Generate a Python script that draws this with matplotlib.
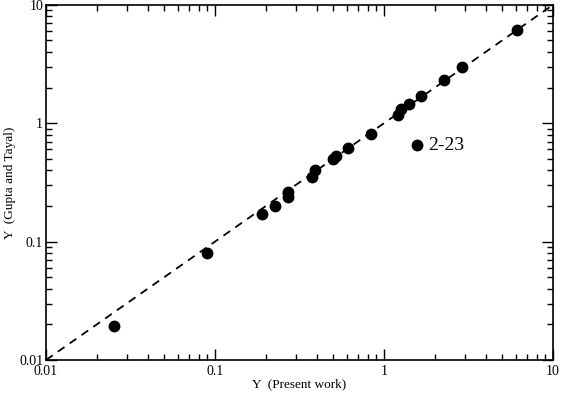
import matplotlib
matplotlib.use("Agg")
import matplotlib.pyplot as plt
from matplotlib.ticker import LogLocator, FixedFormatter, FixedLocator, NullFormatter

plt.rcParams['font.family'] = ['Liberation Serif', 'DejaVu Serif']

x_present = [0.0252, 0.0893, 0.189, 0.226, 0.272, 0.272, 0.373, 0.391, 0.501, 0.52,
             0.615, 0.838, 1.215, 1.26, 1.41, 1.655, 2.27, 2.88, 6.10]
y_gupta = [0.0195, 0.0795, 0.170, 0.200, 0.26, 0.24, 0.352, 0.40, 0.503, 0.53,
           0.621, 0.805, 1.164, 1.32, 1.46, 1.71, 2.30, 2.97, 6.18]
outlier_x = [1.56]
outlier_y = [0.65]
outlier_label = "2-23"
ref_line = [0.01, 10]
tick_vals = [0.01, 0.1, 1, 10]
tick_labels = ["0.01", "0.1", "1", "10"]

fig = plt.figure(figsize=(5.63, 3.95), dpi=100)
ax = fig.add_axes([46/563, 35/395, (553-46)/563, (360-4.8)/395])
ax.set_xscale('log')
ax.set_yscale('log')
ax.set_xlim(0.01, 10)
ax.set_ylim(0.01, 10)

ax.plot(ref_line, ref_line, linestyle=(0, (4.5, 3.5)), color='black', linewidth=1.3, zorder=1)
ax.plot(x_present, y_gupta, 'o', color='black', markersize=7.5, zorder=2)
ax.plot(outlier_x, outlier_y, 'o', color='black', markersize=7.5, zorder=2)
ax.annotate(outlier_label, (outlier_x[0], outlier_y[0]), xytext=(8, 0), textcoords='offset points',
            va='center', ha='left', fontsize=14)

for axis in (ax.xaxis, ax.yaxis):
    axis.set_major_locator(FixedLocator(tick_vals))
    axis.set_major_formatter(FixedFormatter(tick_labels))
    axis.set_minor_locator(LogLocator(base=10, subs=range(2, 10)))
    axis.set_minor_formatter(NullFormatter())

ax.tick_params(which='both', direction='in', top=True, right=True, labelsize=10, width=1, colors='black')
ax.tick_params(which='major', length=8)
ax.tick_params(which='minor', length=4)
ax.tick_params(axis='x', which='major', pad=3.5)
ax.tick_params(axis='y', which='major', pad=2)
for s in ax.spines.values():
    s.set_linewidth(1.2)

ax.set_xlabel("Y  (Present work)", fontsize=9.5, labelpad=0)
ax.set_ylabel("Y  (Gupta and Tayal)", fontsize=9.5, labelpad=2)

fig.savefig("out.png", dpi=100)
